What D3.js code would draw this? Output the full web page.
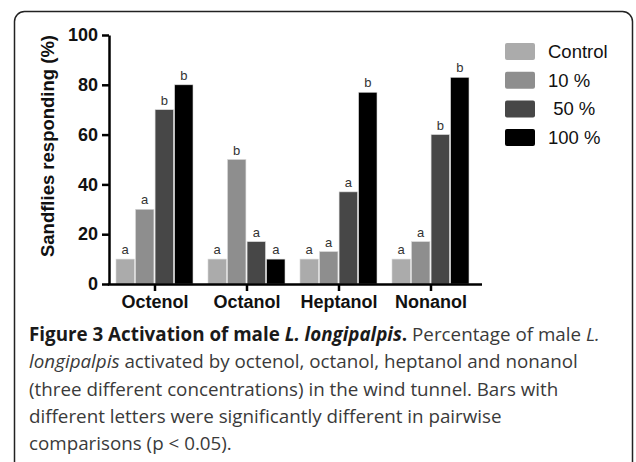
<!DOCTYPE html>
<html>
<head>
<meta charset="utf-8">
<script src="https://cdn.jsdelivr.net/npm/d3@7.9.0/dist/d3.min.js"></script>
<style>
  body { margin: 0; background: #fff; }
  svg { display: block; }
  .caption { font-family: "Open Sans", sans-serif; font-size: 18.8px; fill: #3a3a3a; }
</style>
</head>
<body>
<div id="chart"></div>
<script>
const compounds = ['Octenol', 'Octanol', 'Heptanol', 'Nonanol'];
const series = ['Control', '10 %', ' 50 %', '100 %'];
const seriesColors = ['#ababab', '#8e8e8e', '#474747', '#000000'];
const control = [10, 10, 10, 10];
const conc10 = [30, 50, 13, 17];
const conc50 = [70, 17, 37, 60];
const conc100 = [80, 10, 77, 83];
const letters = [
  ['a', 'a', 'b', 'b'],
  ['a', 'b', 'a', 'a'],
  ['a', 'a', 'a', 'b'],
  ['a', 'a', 'b', 'b'],
];
const yTicks = [0, 20, 40, 60, 80, 100];

const width = 636;
const height = 462;

const svg = d3.select('#chart')
  .append('svg')
  .attr('width', width)
  .attr('height', height);

// rounded frame, runs off the bottom
svg.append('rect')
  .attr('x', 14.5)
  .attr('y', 11.5)
  .attr('width', 618)
  .attr('height', 480)
  .attr('rx', 10)
  .attr('fill', 'none')
  .attr('stroke', '#222')
  .attr('stroke-width', 1.5);

const margin = { left: 109, top: 35, bottom: 284 };

const y = d3.scaleLinear().domain([0, 100]).range([margin.bottom, margin.top]);
const x0 = d3.scaleBand().domain(compounds).range([109, 477]).padding(0);
const x1 = d3.scaleBand().domain(series).range([7, 84]).paddingInner(0.06);

const values = series.map((s, i) => [control, conc10, conc50, conc100][i]);

const groups = svg.append('g')
  .selectAll('g')
  .data(compounds)
  .join('g')
  .attr('transform', (d) => `translate(${x0(d)},0)`);

groups.selectAll('rect')
  .data((d, gi) => series.map((s, si) => ({ s, si, v: values[si][gi], l: letters[gi][si] })))
  .join('rect')
  .attr('x', (d) => x1(d.s))
  .attr('y', (d) => y(d.v))
  .attr('width', x1.bandwidth())
  .attr('height', (d) => y(0) - y(d.v))
  .attr('fill', (d) => seriesColors[d.si])
  .attr('stroke', '#d8d8d8')
  .attr('stroke-width', 0.6);

groups.selectAll('text')
  .data((d, gi) => series.map((s, si) => ({ s, si, v: values[si][gi], l: letters[gi][si] })))
  .join('text')
  .attr('x', (d) => x1(d.s) + x1.bandwidth() / 2)
  .attr('y', (d) => y(d.v) - 5)
  .attr('text-anchor', 'middle')
  .attr('font-family', 'Liberation Sans, Arial, sans-serif')
  .attr('font-size', 13)
  .attr('fill', '#333')
  .text((d) => d.l);

// y axis
const yAxis = svg.append('g')
  .attr('transform', `translate(${margin.left},0)`)
  .call(d3.axisLeft(y).tickValues(yTicks).tickSize(7).tickSizeOuter(0));
yAxis.select('.domain').attr('stroke', '#000').attr('stroke-width', 2.5);
yAxis.selectAll('.tick line').attr('stroke', '#000').attr('stroke-width', 2.5);
yAxis.selectAll('.tick text')
  .attr('x', -11)
  .attr('font-family', 'Liberation Sans, Arial, sans-serif')
  .attr('font-size', 18)
  .attr('font-weight', 'bold')
  .attr('fill', '#111');

// x axis
const xAxis = svg.append('g')
  .attr('transform', `translate(0,${margin.bottom})`)
  .call(d3.axisBottom(x0).tickSize(7).tickSizeOuter(0));
xAxis.select('.domain').attr('d', 'M107.8,0.5H482').attr('stroke', '#000').attr('stroke-width', 2.5);
xAxis.selectAll('.tick line').attr('stroke', '#000').attr('stroke-width', 2.5);
xAxis.selectAll('.tick text')
  .attr('y', 11)
  .attr('font-family', 'Liberation Sans, Arial, sans-serif')
  .attr('font-size', 18)
  .attr('font-weight', 'bold')
  .attr('fill', '#111');

// y title
svg.append('text')
  .attr('transform', 'translate(54,146) rotate(-90)')
  .attr('text-anchor', 'middle')
  .attr('font-family', 'Liberation Sans, Arial, sans-serif')
  .attr('font-size', 18.5)
  .attr('font-weight', 'bold')
  .attr('fill', '#111')
  .text('Sandflies responding (%)');

// legend
const legend = svg.append('g')
  .selectAll('g')
  .data(series)
  .join('g')
  .attr('transform', (d, i) => `translate(505,${43 + i * 28.7})`);
legend.append('rect')
  .attr('width', 30)
  .attr('height', 17)
  .attr('rx', 2)
  .attr('fill', (d, i) => seriesColors[i]);
legend.append('text')
  .attr('x', 43)
  .attr('y', 15)
  .attr('font-family', 'Liberation Sans, Arial, sans-serif')
  .attr('font-size', 18.5)
  .attr('fill', '#111')
  .attr('xml:space', 'preserve')
  .style('white-space', 'pre')
  .text((d) => d);

// caption
const captionLines = [
  [['Figure 3 Activation of male ', 'bold', 'normal'], ['L. longipalpis', 'bold', 'italic'], ['.', 'bold', 'normal'], [' Percentage of male ', 'normal', 'normal'], ['L.', 'normal', 'italic']],
  [['longipalpis', 'normal', 'italic'], [' activated by octenol, octanol, heptanol and nonanol', 'normal', 'normal']],
  [['(three different concentrations) in the wind tunnel. Bars with', 'normal', 'normal']],
  [['different letters were significantly different in pairwise', 'normal', 'normal']],
  [['comparisons (p < 0.05).', 'normal', 'normal']],
];
const cap = svg.append('g');
captionLines.forEach((line, i) => {
  const t = cap.append('text')
    .attr('class', 'caption')
    .attr('x', 29)
    .attr('y', 341 + i * 27.3)
    .style('white-space', 'pre');
  line.forEach(([txt, w, st]) => {
    t.append('tspan')
      .attr('font-weight', w)
      .attr('font-style', st)
      .attr('fill', w === 'bold' ? '#1a1a1a' : '#3a3a3a')
      .text(txt);
  });
});
</script>
</body>
</html>
